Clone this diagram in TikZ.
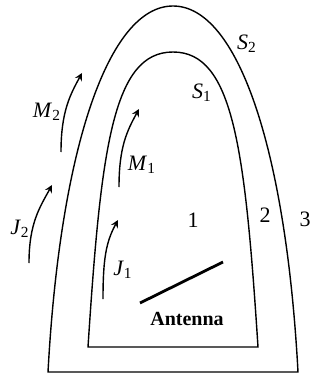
\documentclass[tikz,border=0pt]{standalone}
\usepackage{fontspec}
\setmainfont{Liberation Serif}
\usepackage{tikz}
\usetikzlibrary{positioning,arrows}
\tikzset{>=stealth}
\tikzset{mywalls/.style={line width=0.7pt}}
\tikzset{myflows/.style={line width=0.7pt,->}}
\tikzset{mylabels/.style={inner sep=0pt,font=\fontsize{11}{13}\selectfont}}
\newcommand{\sublabel}[2]{\textit{#1}\textsubscript{#2}}

\begin{document}
\begin{tikzpicture}[x=0.5pt,y=-0.5pt]
    \useasboundingbox (0,0) rectangle (324,374);

    % the two surfaces
    \draw[mywalls] (48,372) .. controls (60,150) and (108,6) .. (173,6)
        .. controls (238,6) and (286,150) .. (298,372) -- cycle;
    \draw[mywalls] (88,347) .. controls (101,147) and (113,52) .. (173,52)
        .. controls (233,52) and (245,147) .. (258,347) -- cycle;

    % currents
    \foreach \n/\xa/\ya/\xb/\yb in {
        M2/61/152/82/73,
        M1/119/187/139/109,
        J2/29/263/52/185,
        J1/103/299/118/220
    } {
        \coordinate (\n s) at (\xa,\ya);
        \coordinate (\n e) at (\xb,\yb);
        \draw[myflows] (\n s) .. controls +(0,-40) and +(-12,22) .. (\n e);
    }

    \node[mylabels] (S2) at (247,44) {\sublabel{S}{2}};
    \node[mylabels] (S1) at (202,93) {\sublabel{S}{1}};
    \node[mylabels] (M2) at (47,112) {\sublabel{M}{2}};
    \node[mylabels] (M1) at (142,165) {\sublabel{M}{1}};
    \node[mylabels] (J2) at (20,229) {\sublabel{J}{2}};
    \node[mylabels] (J1) at (123,270) {\sublabel{J}{1}};
    \node[mylabels] (r1) at (193,220) {1};
    \node[mylabels] (r2) at (265,215) {2};
    \node[mylabels] (r3) at (305,219) {3};

    % antenna
    \coordinate (ant1) at (140,303);
    \coordinate (ant2) at (223,262);
    \draw[line width=1.4pt] (ant1) -- (ant2);
    \node[mylabels,font=\bfseries] (antenna) at (187,319) {Antenna};
\end{tikzpicture}
\end{document}
